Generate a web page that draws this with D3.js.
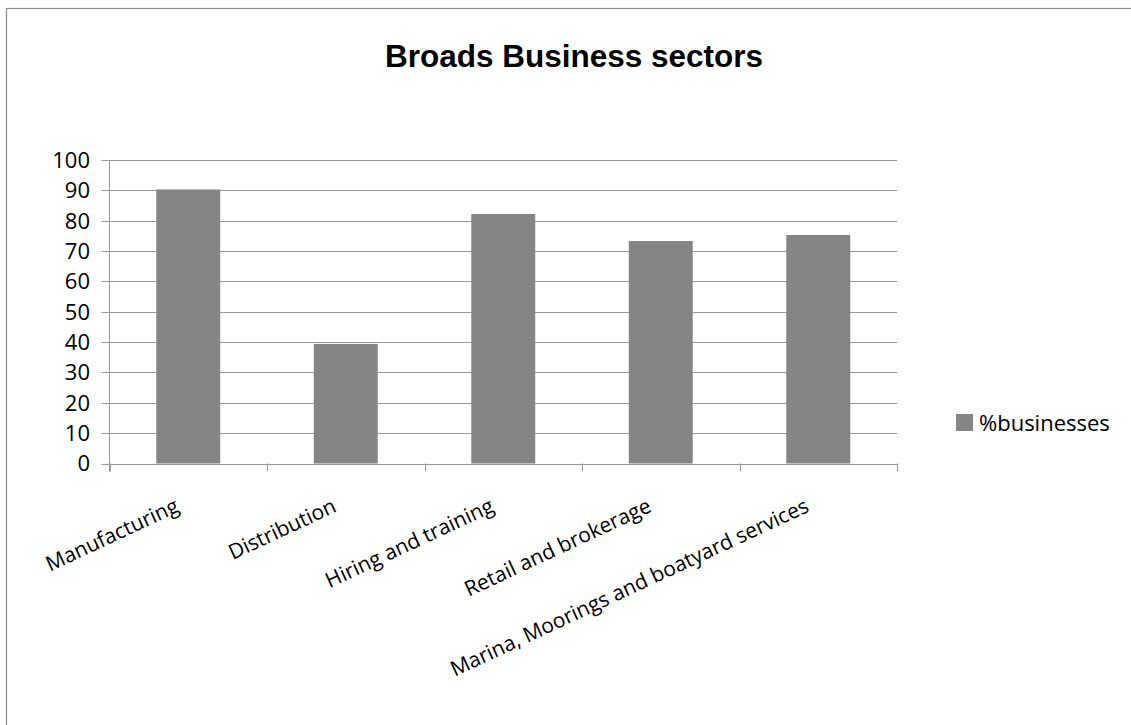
<!DOCTYPE html>
<html>
<head>
<meta charset="utf-8">
<script src="https://cdn.jsdelivr.net/npm/d3@7"></script>
<style>
  body { margin: 0; background: #fff; }
  svg { display: block; }
</style>
</head>
<body>
<svg id="chart"></svg>
<script>
// data
var categories = ['Manufacturing', 'Distribution', 'Hiring and training', 'Retail and brokerage', 'Marina, Moorings and boatyard services'];
var values = [90.3, 39.4, 82.2, 73.3, 75.3];
var yTicks = [0, 10, 20, 30, 40, 50, 60, 70, 80, 90, 100];
var seriesName = '%businesses';

var svgWidth = 1131;
var svgHeight = 725;

var svg = d3.select('#chart')
    .attr('width', svgWidth)
    .attr('height', svgHeight);

// chart border (runs off the right and bottom edges)
svg.append('rect')
    .attr('x', 6.5).attr('y', 8.5)
    .attr('width', 1300).attr('height', 900)
    .attr('fill', 'none')
    .attr('stroke', '#8c8c8c')
    .attr('stroke-width', 1.2);

var plotLeft = 109.5, plotRight = 897, plotTop = 160, plotBottom = 463.5;

var xScale = d3.scaleBand()
    .domain(categories)
    .range([plotLeft, plotRight])
    .paddingInner(0.594)
    .paddingOuter(0.297);

var yScale = d3.scaleLinear()
    .domain([0, 100])
    .range([plotBottom, plotTop]);

// gridlines
svg.append('g')
    .selectAll('line')
    .data(yTicks)
    .enter()
    .append('line')
    .attr('x1', plotLeft - 8)
    .attr('x2', plotRight)
    .attr('y1', function (d) { return Math.round(yScale(d)) + 0.5; })
    .attr('y2', function (d) { return Math.round(yScale(d)) + 0.5; })
    .attr('stroke', '#999')
    .attr('stroke-width', 1);

// y axis line
svg.append('line')
    .attr('x1', plotLeft).attr('x2', plotLeft)
    .attr('y1', plotTop).attr('y2', plotBottom + 8)
    .attr('stroke', '#999');

// category boundary ticks
var bounds = d3.range(categories.length + 1).map(function (i) {
    return plotLeft + (plotRight - plotLeft) * i / categories.length;
});
svg.append('g')
    .selectAll('line')
    .data(bounds)
    .enter()
    .append('line')
    .attr('x1', function (d) { return Math.round(d) + 0.5; })
    .attr('x2', function (d) { return Math.round(d) + 0.5; })
    .attr('y1', plotBottom)
    .attr('y2', plotBottom + 8)
    .attr('stroke', '#999');

// bars
svg.append('g')
    .selectAll('rect')
    .data(values)
    .enter()
    .append('rect')
    .attr('x', function (d, i) { return xScale(categories[i]); })
    .attr('y', function (d) { return yScale(d); })
    .attr('width', xScale.bandwidth())
    .attr('height', function (d) { return plotBottom - yScale(d); })
    .attr('fill', '#848484');

// y labels
svg.append('g')
    .selectAll('text')
    .data(yTicks)
    .enter()
    .append('text')
    .attr('x', 90)
    .attr('y', function (d) { return yScale(d); })
    .attr('dy', '0.36em')
    .attr('text-anchor', 'end')
    .attr('font-family', 'Open Sans')
    .attr('font-size', 22)
    .attr('fill', '#000')
    .text(function (d) { return d; });

// x labels, rotated
svg.append('g')
    .selectAll('text')
    .data(categories)
    .enter()
    .append('text')
    .attr('text-anchor', 'end')
    .attr('font-family', 'Open Sans')
    .attr('font-size', 21)
    .attr('fill', '#000')
    .attr('transform', function (d) {
        var x = xScale(d) + xScale.bandwidth() / 2 - 8;
        return 'translate(' + x + ',511) rotate(-25)';
    })
    .text(function (d) { return d; });

// title
svg.append('text')
    .attr('x', 574)
    .attr('y', 67)
    .attr('text-anchor', 'middle')
    .attr('font-family', 'Liberation Sans, Arial, sans-serif')
    .attr('font-weight', 'bold')
    .attr('font-size', 31.5)
    .text('Broads Business sectors');

// legend
svg.append('rect')
    .attr('x', 956).attr('y', 414)
    .attr('width', 17).attr('height', 17)
    .attr('fill', '#848484');

svg.append('text')
    .attr('x', 979)
    .attr('y', 431)
    .attr('font-family', 'Open Sans')
    .attr('font-size', 22)
    .text(seriesName);
</script>
</body>
</html>
